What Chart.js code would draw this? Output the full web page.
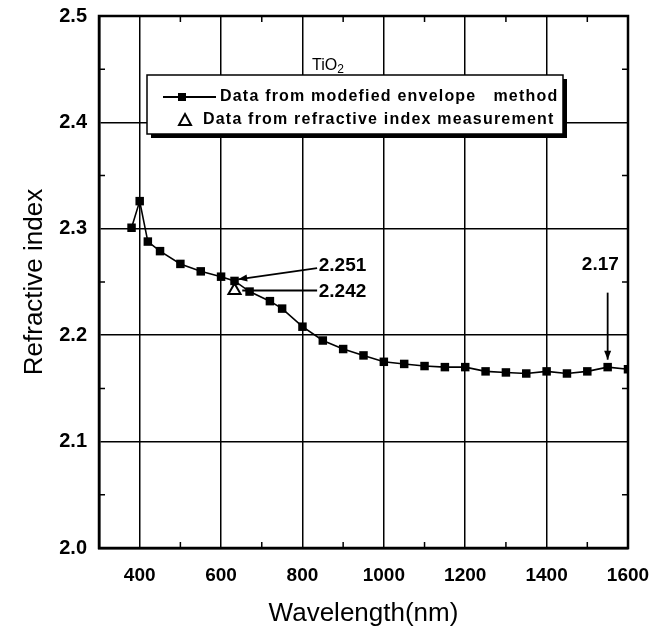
<!DOCTYPE html>
<html>
<head>
<meta charset="utf-8">
<script src="https://cdn.jsdelivr.net/npm/chart.js@4/dist/chart.umd.min.js"></script>
<style>
  html, body { margin: 0; padding: 0; background: #fff; }
  #wrap { width: 667px; height: 633px; }
</style>
</head>
<body>
<div id="wrap"><canvas id="chart" width="667" height="633"></canvas></div>
<script>
// values
const wavelength = [380, 400, 420, 450, 500, 550, 600, 633, 670, 720, 750, 800, 850, 900, 950,
    1000, 1050, 1100, 1150, 1200, 1250, 1300, 1350, 1400, 1450, 1500, 1550, 1600];
const modifiedIndex = [2.301, 2.326, 2.288, 2.279, 2.267, 2.260, 2.255, 2.251, 2.241, 2.232, 2.225, 2.208, 2.195, 2.187, 2.181,
    2.175, 2.173, 2.171, 2.170, 2.170, 2.166, 2.165, 2.164, 2.166, 2.164, 2.166, 2.170, 2.168];
const measuredWavelength = [633];
const measuredIndex = [2.242];

const xTicks = [400, 600, 800, 1000, 1200, 1400, 1600];
const xMinorTicks = [500, 700, 900, 1100, 1300, 1500];
const yTicks = [2.0, 2.1, 2.2, 2.3, 2.4, 2.5];
const yMinorTicks = [2.05, 2.15, 2.25, 2.35, 2.45];

const legendLabels = ['Data from modefied envelope   method', 'Data from refractive index measurement'];

// callouts, given in data units
const callouts = [
    { text: '2.251', at: [840, 2.265], from: [836, 2.263], to: [642, 2.2525], head: true, align: 'left' },
    { text: '2.242', at: [840, 2.241], from: [836, 2.242], to: [652, 2.242], head: false, align: 'left' },
    { text: '2.17', at: [1532, 2.266], from: [1550, 2.240], to: [1550, 2.177], head: true, align: 'center' }
];

const FONT = "'Liberation Sans', Arial, sans-serif";

function toPoints(xs, ys) {
    return xs.map((x, i) => ({ x: x, y: ys[i] }));
}

function arrow(ctx, x1, y1, x2, y2, head) {
    ctx.beginPath();
    ctx.moveTo(x1, y1);
    ctx.lineTo(x2, y2);
    ctx.stroke();
    if (!head) return;
    const a = Math.atan2(y2 - y1, x2 - x1);
    const len = 9, w = 3.5;
    ctx.beginPath();
    ctx.moveTo(x2, y2);
    ctx.lineTo(x2 - len * Math.cos(a) + w * Math.sin(a), y2 - len * Math.sin(a) - w * Math.cos(a));
    ctx.lineTo(x2 - len * Math.cos(a) - w * Math.sin(a), y2 - len * Math.sin(a) + w * Math.cos(a));
    ctx.closePath();
    ctx.fill();
}

const framePlugin = {
    id: 'frame',
    afterDraw(chart) {
        const { ctx, chartArea: a, scales: { x, y } } = chart;
        ctx.save();
        ctx.strokeStyle = '#000';
        ctx.fillStyle = '#000';

        // minor ticks, inward on all four sides
        ctx.lineWidth = 1.5;
        xMinorTicks.forEach(v => {
            const px = x.getPixelForValue(v);
            ctx.beginPath();
            ctx.moveTo(px, a.bottom); ctx.lineTo(px, a.bottom - 6);
            ctx.moveTo(px, a.top); ctx.lineTo(px, a.top + 6);
            ctx.stroke();
        });
        yMinorTicks.forEach(v => {
            const py = y.getPixelForValue(v);
            ctx.beginPath();
            ctx.moveTo(a.left, py); ctx.lineTo(a.left + 6, py);
            ctx.moveTo(a.right, py); ctx.lineTo(a.right - 6, py);
            ctx.stroke();
        });

        // frame
        ctx.lineWidth = 2.5;
        ctx.strokeRect(a.left, a.top, a.right - a.left, a.bottom - a.top);

        // legend box
        const bx = a.left + 48, by = a.top + 59, bw = 416, bh = 59;
        ctx.fillRect(bx + 4, by + 4, bw, bh);
        ctx.fillStyle = '#fff';
        ctx.fillRect(bx, by, bw, bh);
        ctx.fillStyle = '#000';
        ctx.lineWidth = 1.5;
        ctx.strokeRect(bx, by, bw, bh);

        // TiO2 label, just above the box
        ctx.font = '16px ' + FONT;
        ctx.textBaseline = 'alphabetic';
        ctx.textAlign = 'left';
        const tx = a.left + 213, ty = by - 5;
        ctx.fillText('TiO', tx, ty);
        const w = ctx.measureText('TiO').width;
        ctx.font = '12px ' + FONT;
        ctx.fillText('2', tx + w, ty + 3);

        const l1 = by + 22, l2 = by + 45;
        ctx.lineWidth = 1.8;
        ctx.beginPath();
        ctx.moveTo(bx + 16, l1); ctx.lineTo(bx + 69, l1);
        ctx.stroke();
        ctx.fillRect(bx + 31, l1 - 4, 8, 8);
        ctx.beginPath();
        ctx.moveTo(bx + 38, l2 - 6); ctx.lineTo(bx + 44, l2 + 5); ctx.lineTo(bx + 32, l2 + 5); ctx.closePath();
        ctx.lineWidth = 2;
        ctx.stroke();

        ctx.font = 'bold 16px ' + FONT;
        ctx.letterSpacing = '1.2px';
        ctx.textBaseline = 'middle';
        ctx.fillText(legendLabels[0], bx + 73, l1);
        ctx.fillText(legendLabels[1], bx + 56, l2);
        ctx.letterSpacing = '0px';

        // callouts
        ctx.lineWidth = 1.8;
        ctx.font = 'bold 19px ' + FONT;
        callouts.forEach(c => {
            arrow(ctx, x.getPixelForValue(c.from[0]), y.getPixelForValue(c.from[1]),
                x.getPixelForValue(c.to[0]), y.getPixelForValue(c.to[1]), c.head);
            ctx.textAlign = c.align;
            ctx.textBaseline = 'middle';
            ctx.fillText(c.text, x.getPixelForValue(c.at[0]), y.getPixelForValue(c.at[1]));
        });
        ctx.restore();
    }
};

new Chart(document.getElementById('chart'), {
    type: 'scatter',
    data: {
        datasets: [{
            label: legendLabels[0],
            data: toPoints(wavelength, modifiedIndex),
            showLine: true,
            borderColor: '#000',
            borderWidth: 1.6,
            backgroundColor: '#000',
            pointStyle: 'rect',
            pointRadius: 6,
            pointBorderWidth: 0
        }, {
            label: legendLabels[1],
            data: toPoints(measuredWavelength, measuredIndex),
            showLine: false,
            borderColor: '#000',
            backgroundColor: '#fff',
            pointStyle: 'triangle',
            pointRadius: 7,
            pointBorderWidth: 2
        }]
    },
    options: {
        responsive: false,
        animation: false,
        layout: { padding: { left: 0, right: 39, top: 16, bottom: 0 } },
        plugins: {
            legend: { display: false },
            tooltip: { enabled: false }
        },
        scales: {
            x: {
                type: 'linear',
                min: 300,
                max: 1600,
                afterBuildTicks: s => { s.ticks = xTicks.map(v => ({ value: v })); },
                afterFit: s => { s.height = 85; },
                grid: { color: '#000', lineWidth: 1.5, drawTicks: false },
                border: { color: '#000', width: 2.5 },
                ticks: {
                    color: '#000',
                    padding: 16,
                    maxRotation: 0,
                    callback: v => String(v),
                    font: { family: FONT, size: 19, weight: 'bold' }
                },
                title: {
                    display: true,
                    text: 'Wavelength(nm)',
                    color: '#000',
                    padding: { top: 0, bottom: 4 },
                    font: { family: FONT, size: 26 }
                }
            },
            y: {
                type: 'linear',
                min: 2.0,
                max: 2.5,
                afterBuildTicks: s => { s.ticks = yTicks.map(v => ({ value: v })); },
                afterFit: s => { s.width = 99; s.paddingTop = 0; s.paddingBottom = 0; },
                grid: { color: '#000', lineWidth: 1.5, drawTicks: false },
                border: { color: '#000', width: 2.5 },
                ticks: {
                    color: '#000',
                    padding: 12,
                    callback: v => v.toFixed(1),
                    font: { family: FONT, size: 20, weight: 'bold' }
                },
                title: {
                    display: true,
                    text: 'Refractive index',
                    color: '#000',
                    padding: { top: 19, bottom: 0 },
                    font: { family: FONT, size: 26 }
                }
            }
        }
    },
    plugins: [framePlugin]
});
</script>
</body>
</html>
